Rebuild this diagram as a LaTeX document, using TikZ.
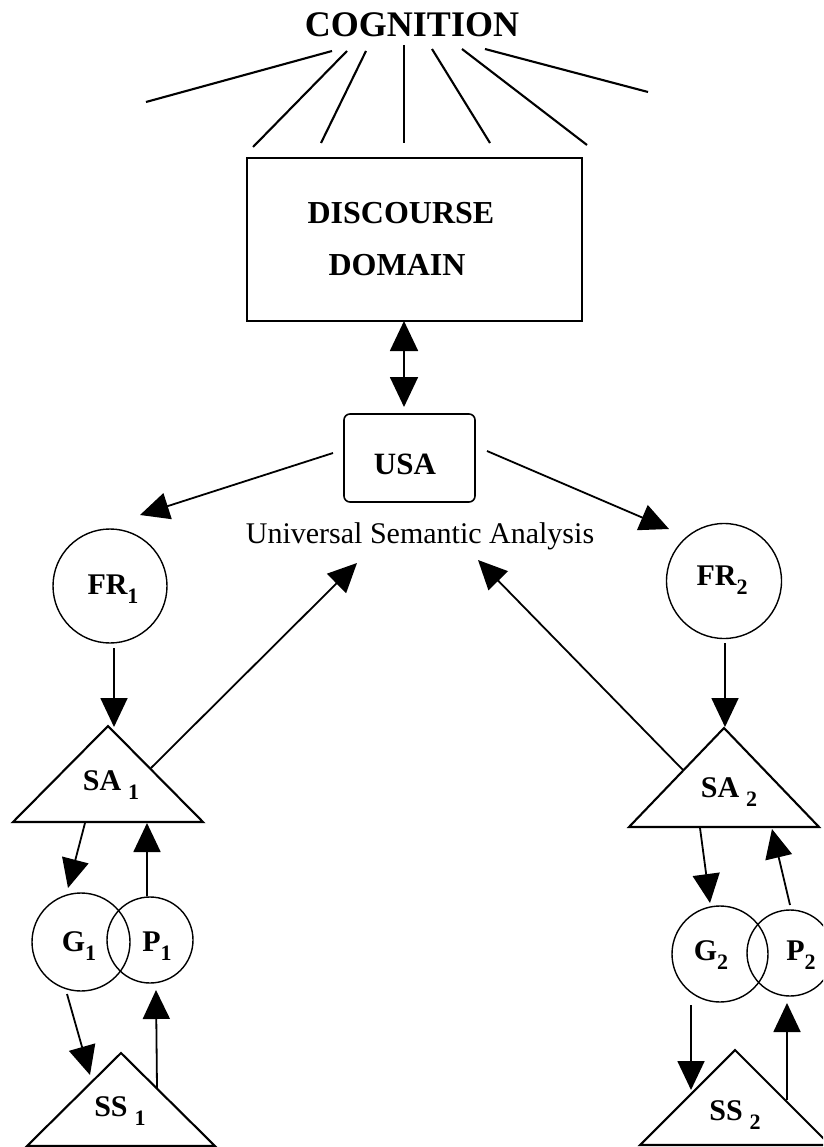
\documentclass[tikz,border=0pt]{standalone}
\usepackage{fontspec}
\setmainfont{Liberation Serif}
\usetikzlibrary{arrows.meta}

% label with a lowered index, tight or with a gap before the index
\newcommand\subl[2]{#1\smash{\raisebox{-9pt}{\fontsize{22}{22}\selectfont #2}}}
\newcommand\subls[2]{#1\hspace{7pt}\smash{\raisebox{-9pt}{\fontsize{22}{22}\selectfont #2}}}

\tikzset{
  ray/.style={line width=2.1pt},
  frame/.style={draw, line width=1.6pt},
  ring/.style={draw, circle, line width=1.4pt, inner sep=0pt},
  tri/.style={line width=2.1pt, line join=miter},
  link/.style={line width=1.8pt, -{Triangle[length=29pt,width=27pt]}},
  biglink/.style={line width=1.8pt, {Triangle[length=30pt,width=28pt]}-{Triangle[length=30pt,width=28pt]}},
  lab/.style={font=\fontsize{30}{30}\selectfont\bfseries, inner sep=0pt},
}

\begin{document}
\begin{tikzpicture}[x=1pt,y=-1pt]
\useasboundingbox (0,0) rectangle (823,1147);
\clip (0,0) rectangle (823,1147);

% ---- top: cognition and its rays
\node[font=\fontsize{36}{36}\selectfont\bfseries, anchor=base, inner sep=0pt] (cog) at (412,37) {COGNITION};
\foreach \i/\ax/\ay/\bx/\by in {1/332/51/146/102, 2/347/51/253/147, 3/366/51/321/143,
    4/404/45/404/143, 5/432/49/490/143, 6/462/49/587/145, 7/485/49/648/92} {
  \coordinate (ray\i a) at (\ax,\ay);
  \coordinate (ray\i b) at (\bx,\by);
  \draw[ray] (ray\i a) -- (ray\i b);
}

% ---- discourse domain
\node[frame, minimum width=335pt, minimum height=163pt, inner sep=0pt] (dd) at (414.5,239.5) {};
\node[font=\fontsize{32}{32}\selectfont\bfseries, anchor=base, inner sep=0pt] (dd1) at (401,224) {DISCOURSE};
\node[font=\fontsize{32}{32}\selectfont\bfseries, anchor=base, inner sep=0pt] (dd2) at (397,276) {DOMAIN};

% ---- universal semantic analysis
\node[frame, rounded corners=6pt, minimum width=131pt, minimum height=88pt, inner sep=0pt] (usa) at (409.5,458) {};
\node[font=\fontsize{31}{31}\selectfont\bfseries, inner sep=0pt] (usat) at (405,464) {USA};
\node[font=\fontsize{30}{30}\selectfont, anchor=base, inner sep=0pt] (usasub) at (420,543) {Universal Semantic Analysis};

\coordinate (ddlow) at (404,321);
\coordinate (usahigh) at (404,407);
\draw[biglink] (ddlow) -- (usahigh);

% ---- frames
\node[ring, minimum size=114pt] (fr1) at (110,586) {};
\node[lab] (fr1t) at (113,585) {\subl{FR}{1}};
\node[ring, minimum size=115pt] (fr2) at (724,581) {};
\node[lab] (fr2t) at (722,576) {\subl{FR}{2}};

\coordinate (usaw) at (333,453);
\coordinate (usae) at (487,451);
\coordinate (fr1in) at (140,515);
\coordinate (fr2in) at (669,529);
\draw[link] (usaw) -- (fr1in);
\draw[link] (usae) -- (fr2in);

% ---- triangles
\coordinate (sa1a) at (108,726); \coordinate (sa1r) at (203,822); \coordinate (sa1l) at (13,822);
\coordinate (sa2a) at (724,728); \coordinate (sa2r) at (819,827); \coordinate (sa2l) at (629,827);
\coordinate (ss1a) at (121,1053); \coordinate (ss1r) at (215,1146); \coordinate (ss1l) at (27,1146);
\coordinate (ss2a) at (735,1050); \coordinate (ss2r) at (830,1145); \coordinate (ss2l) at (640,1145);
\draw[tri] (sa1a) -- (sa1r) -- (sa1l) -- cycle;
\draw[tri] (sa2a) -- (sa2r) -- (sa2l) -- cycle;
\draw[tri] (ss1a) -- (ss1r) -- (ss1l) -- cycle;
\draw[tri] (ss2a) -- (ss2r) -- (ss2l) -- cycle;
\node[lab] (sa1t) at (111,781) {\subls{SA}{1}};
\node[lab] (sa2t) at (729,788) {\subls{SA}{2}};
\node[lab] (ss1t) at (120,1107) {\subls{SS}{1}};
\node[lab] (ss2t) at (735,1111) {\subls{SS}{2}};

% ---- generation / parsing circles
\node[ring, minimum size=98pt] (g1) at (81,942) {};
\node[ring, minimum size=86pt] (p1) at (150,940) {};
\node[ring, minimum size=96pt] (g2) at (720,954) {};
\node[ring, minimum size=86pt] (p2) at (790,953) {};
\node[lab] (g1t) at (79,942) {\subl{G}{1}};
\node[lab] (p1t) at (157,942) {\subl{P}{1}};
\node[lab] (g2t) at (711,951) {\subl{G}{2}};
\node[lab] (p2t) at (801,951) {\subl{P}{2}};

% ---- connector end points
\coordinate (fr1out) at (114,648);  \coordinate (sa1in) at (114,727);
\coordinate (fr2out) at (725,643);  \coordinate (sa2in) at (725,727);
\coordinate (sa1up) at (151,768);   \coordinate (usain1) at (357,563);
\coordinate (sa2up) at (683,770);   \coordinate (usain2) at (478,560);
\coordinate (sa1dn) at (85,823);    \coordinate (g1in) at (68,888);
\coordinate (p1out) at (147,896);   \coordinate (sa1bin) at (147,823);
\coordinate (g1out) at (67,994);    \coordinate (ss1in) at (90,1075);
\coordinate (ss1up) at (157,1088);  \coordinate (p1in) at (156,990);
\coordinate (sa2dn) at (700,828);   \coordinate (g2in) at (710,903);
\coordinate (p2out) at (790,905);   \coordinate (sa2bin) at (772,829);
\coordinate (g2out) at (691,1005);  \coordinate (ss2in) at (691,1090);
\coordinate (ss2up) at (787,1100);  \coordinate (p2in) at (787,1003);

\draw[link] (fr1out) -- (sa1in);
\draw[link] (fr2out) -- (sa2in);
\draw[link] (sa1up) -- (usain1);
\draw[link] (sa2up) -- (usain2);
\draw[link] (sa1dn) -- (g1in);
\draw[link] (p1out) -- (sa1bin);
\draw[link] (g1out) -- (ss1in);
\draw[link] (ss1up) -- (p1in);
\draw[link] (sa2dn) -- (g2in);
\draw[link] (p2out) -- (sa2bin);
\draw[link] (g2out) -- (ss2in);
\draw[link] (ss2up) -- (p2in);
\end{tikzpicture}
\end{document}
